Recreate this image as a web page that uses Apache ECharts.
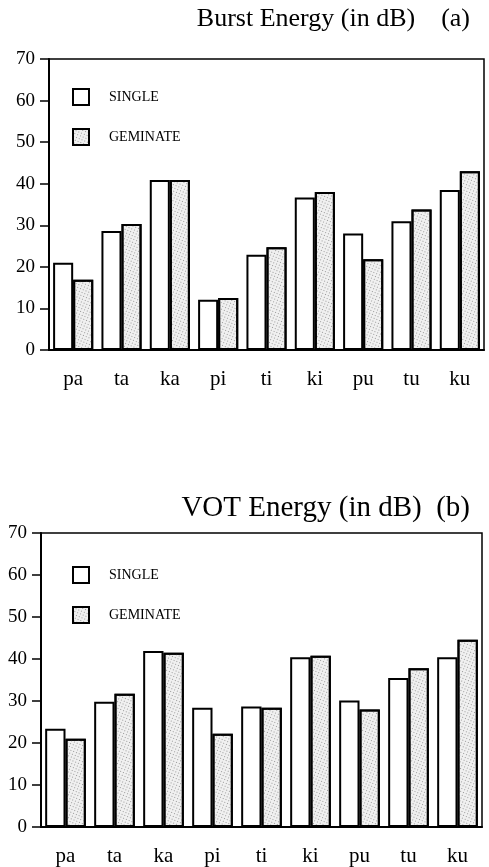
<!DOCTYPE html>
<html>
<head>
<meta charset="utf-8">
<script src="https://cdn.jsdelivr.net/npm/echarts@6/dist/echarts.min.js"></script>
<style>
html,body{margin:0;padding:0;background:#fff;}
#main{width:489px;height:867px;}
</style>
</head>
<body>
<div id="main"></div>
<script>
var categories = ['pa','ta','ka','pi','ti','ki','pu','tu','ku'];
var yTicks = [0,10,20,30,40,50,60,70];
var burstSingle   = [21.0, 28.6, 40.9, 12.1, 22.9, 36.7, 28.0, 31.0, 38.5];
var burstGeminate = [16.9, 30.3, 40.9, 12.5, 24.7, 38.0, 21.8, 33.8, 43.0];
var votSingle     = [23.4, 29.8, 41.9, 28.4, 28.7, 40.4, 30.1, 35.5, 40.4];
var votGeminate   = [21.0, 31.7, 41.5, 22.2, 28.4, 40.8, 28.0, 37.8, 44.6];
var titleA = 'Burst Energy (in dB)    (a)';
var titleB = 'VOT Energy (in dB)  (b)';

var serif = 'Liberation Serif';
var singleStyle = {color:'#ffffff', borderColor:'#000', borderWidth:2};
var gemStyle = {
  color:'#f0f0f0', borderColor:'#000', borderWidth:2,
  decal:{symbol:'rect', symbolSize:1, color:'#9a9a9a', dashArrayX:[1,2], dashArrayY:[1,2], rotation:0.4}
};

function xAxis(gi){
  return {
    type:'category', gridIndex:gi, data:categories,
    axisLine:{lineStyle:{color:'#000', width:2}},
    axisTick:{alignWithLabel:true, length:8, lineStyle:{color:'#000', width:1.5}},
    axisLabel:{color:'#000', fontFamily:serif, fontSize:21, margin:19}
  };
}
function yAxis(gi){
  return {
    type:'value', gridIndex:gi, min:yTicks[0], max:yTicks[yTicks.length-1], interval:10,
    axisLine:{show:true, lineStyle:{color:'#000', width:2}},
    axisTick:{show:true, length:9, lineStyle:{color:'#000', width:1.5}},
    axisLabel:{color:'#000', fontFamily:serif, fontSize:19, margin:14},
    splitLine:{show:false}
  };
}
function bar(name, data, gi, style){
  return {
    name:name, type:'bar', xAxisIndex:gi, yAxisIndex:gi, data:data,
    barGap:'0%', barCategoryGap:'17%', itemStyle:style
  };
}

var chart = echarts.init(document.getElementById('main'), null, {renderer:'canvas'});
chart.setOption({
  animation:false,
  backgroundColor:'#fff',
  title:[
    {text:titleA, right:14, top:1, textStyle:{fontFamily:serif, fontWeight:'normal', fontSize:26, color:'#000'}},
    {text:titleB, right:14, top:489, textStyle:{fontFamily:serif, fontWeight:'normal', fontSize:29, color:'#000'}}
  ],
  legend:[
    {orient:'vertical', left:67, top:83, itemWidth:16, itemHeight:16, itemGap:22, icon:'rect',
     data:['SINGLE','GEMINATE'], textStyle:{fontFamily:serif, fontSize:14, color:'#000', padding:[0,0,0,15]}},
    {orient:'vertical', left:67, top:561, itemWidth:16, itemHeight:16, itemGap:22, icon:'rect',
     data:['SINGLE','GEMINATE'], textStyle:{fontFamily:serif, fontSize:14, color:'#000', padding:[0,0,0,15]}}
  ],
  grid:[
    {left:49, right:5, top:59, height:291, show:true, borderColor:'#000', borderWidth:1.5, backgroundColor:'transparent'},
    {left:41, right:7, top:533, height:294, show:true, borderColor:'#000', borderWidth:1.5, backgroundColor:'transparent'}
  ],
  xAxis:[xAxis(0), xAxis(1)],
  yAxis:[yAxis(0), yAxis(1)],
  series:[
    bar('SINGLE', burstSingle, 0, singleStyle),
    bar('GEMINATE', burstGeminate, 0, gemStyle),
    bar('SINGLE', votSingle, 1, singleStyle),
    bar('GEMINATE', votGeminate, 1, gemStyle)
  ]
});
</script>
</body>
</html>
